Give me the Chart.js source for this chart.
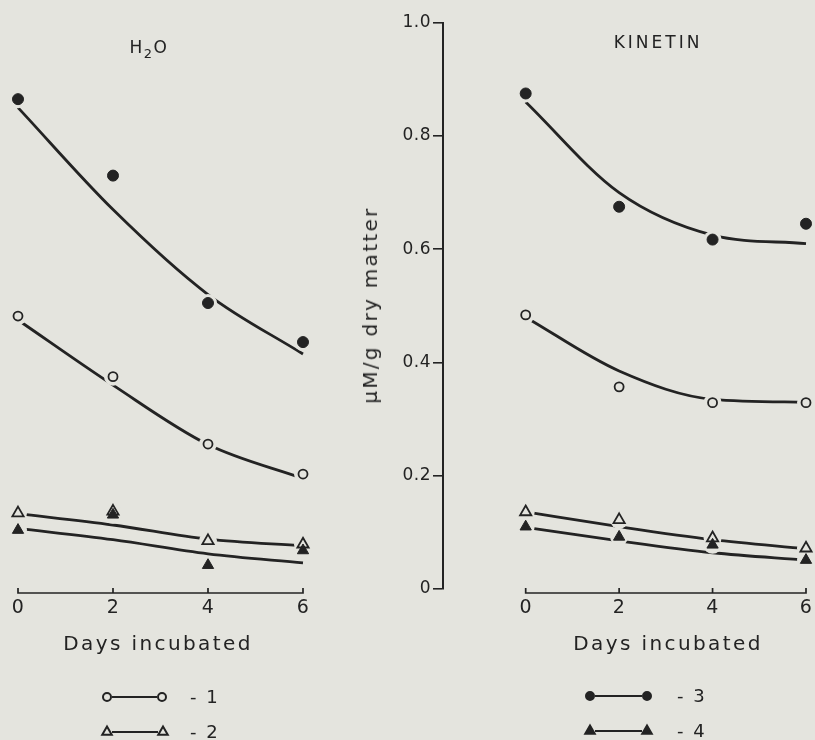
<!DOCTYPE html>
<html><head><meta charset="utf-8">
<script src="https://cdn.jsdelivr.net/npm/chart.js@4/dist/chart.umd.min.js"></script>
<style>
html,body{margin:0;padding:0;background:#e4e4de;}
#wrap{position:relative;width:815px;height:740px;overflow:hidden;font-family:"DejaVu Sans",sans-serif;color:#232323;background:#e4e4de;}
.cv{position:absolute;left:0;top:0;width:815px;height:740px;}
.t{position:absolute;white-space:nowrap;line-height:1;transform:translate(-50%,-50%);}
.lg{position:absolute;white-space:nowrap;line-height:1;transform:translateY(-50%);font-size:18px;letter-spacing:2px;}
</style></head><body>
<div id="wrap">
  <div class="cv"><canvas id="rightChart"></canvas></div>
  <div class="cv"><canvas id="leftChart"></canvas></div>
  <div class="t" style="left:149px;top:47px;font-size:17px;letter-spacing:1.5px;">H<span style="font-size:13px;position:relative;top:5px;">2</span>O</div>
  <div class="t" style="left:658px;top:42px;font-size:17px;letter-spacing:3px;">KINETIN</div>
  <div class="t" style="left:158px;top:643px;font-size:20px;letter-spacing:2.4px;">Days incubated</div>
  <div class="t" style="left:668px;top:643px;font-size:20px;letter-spacing:2.4px;">Days incubated</div>
  <div class="t" style="left:370px;top:305px;font-size:20px;letter-spacing:2.3px;transform:translate(-50%,-50%) rotate(-90deg);">μM/g dry matter</div>
  <div class="lg" style="left:190px;top:697px;">- 1</div>
  <div class="lg" style="left:190px;top:732px;">- 2</div>
  <div class="lg" style="left:677px;top:696px;">- 3</div>
  <div class="lg" style="left:677px;top:731px;">- 4</div>
</div>
<script>
// ---- data ----
const days = [0, 2, 4, 6];
const dayTicks = [0, 2, 4, 6];
const yTickValues = [0, 0.2, 0.4, 0.6, 0.8, 1.0];
const yTickLabels = ['0', '0.2', '0.4', '0.6', '0.8', '1.0'];

// H2O: measured points
const h2o1 = [0.482, 0.375, 0.256, 0.203];
const h2o2 = [0.134, 0.137, 0.085, 0.079];
const h2o3 = [0.865, 0.730, 0.505, 0.436];
const h2o4 = [0.104, 0.131, 0.042, 0.068];
// H2O: fitted curves
const h2oFit1 = [0.475, 0.360, 0.255, 0.195];
const h2oFit2 = [0.133, 0.113, 0.088, 0.076];
const h2oFit3 = [0.850, 0.670, 0.520, 0.415];
const h2oFit4 = [0.107, 0.087, 0.062, 0.046];

// KINETIN: measured points
const kin1 = [0.484, 0.357, 0.329, 0.329];
const kin2 = [0.136, 0.122, 0.090, 0.072];
const kin3 = [0.875, 0.675, 0.617, 0.645];
const kin4 = [0.110, 0.092, 0.078, 0.051];
// KINETIN: fitted curves
const kinFit1 = [0.480, 0.385, 0.335, 0.330];
const kinFit2 = [0.136, 0.110, 0.087, 0.071];
const kinFit3 = [0.860, 0.700, 0.625, 0.610];
const kinFit4 = [0.109, 0.085, 0.064, 0.051];

// ---- styling ----
const INK = '#232323';
const PAPER = '#e4e4de';
const FAMILY = '"DejaVu Sans", sans-serif';

const pts = arr => days.map((d, i) => ({x: d, y: arr[i]}));

function fitLine(arr) {
  return {data: pts(arr), borderColor: INK, borderWidth: 2.8, pointRadius: 0,
    cubicInterpolationMode: 'monotone', fill: false, clip: false, order: 30};
}
function halo(arr) {
  return {data: pts(arr), showLine: false, pointRadius: 9, pointBorderWidth: 0,
    pointBackgroundColor: PAPER, pointBorderColor: PAPER, clip: false, order: 20, pointStyle: 'circle'};
}
function marker(arr, style, filled) {
  const tri = style === 'triangle';
  return {data: pts(arr), showLine: false, pointStyle: style,
    pointRadius: tri ? 6.5 : (filled ? 5.5 : 4.5),
    pointBorderWidth: filled ? 1 : 1.8,
    pointBackgroundColor: filled ? INK : PAPER, pointBorderColor: INK,
    clip: false, order: filled ? 10 : 11};
}

const axisLinePlugin = {
  id: 'axisLine',
  beforeDraw(chart) { chart.ctx.letterSpacing = '0.5px'; },
  afterDraw(chart) {
    const x = chart.scales.x, ctx = chart.ctx;
    const y0 = chart.chartArea.bottom + 4;
    const a = x.getPixelForValue(dayTicks[0]);
    const b = x.getPixelForValue(dayTicks[dayTicks.length - 1]);
    ctx.save();
    ctx.strokeStyle = INK; ctx.lineWidth = 1.7;
    ctx.beginPath();
    ctx.moveTo(a, y0); ctx.lineTo(b, y0);
    dayTicks.forEach(v => { const p = x.getPixelForValue(v); ctx.moveTo(p, y0 + 0.8); ctx.lineTo(p, y0 - 5); });
    ctx.stroke();
    // legend symbols
    const items = chart.options.plugins.axisLine.legend || [];
    items.forEach(it => {
      ctx.beginPath(); ctx.lineWidth = 2; ctx.moveTo(it.x1 + 5, it.y); ctx.lineTo(it.x2 - 5, it.y); ctx.stroke();
      [it.x1, it.x2].forEach(px => {
        ctx.fillStyle = it.filled ? INK : PAPER; ctx.strokeStyle = INK;
        Chart.helpers.drawPoint(ctx, {pointStyle: it.style, radius: it.style === 'triangle' ? 5.5 : 4,
          borderWidth: it.filled ? 1 : 1.6, rotation: 0}, px, it.y);
      });
    });
    ctx.restore();
  }
};

function xScale(min) {
  return {
    type: 'linear', min: min, max: 6, position: 'bottom',
    grid: {display: false, drawTicks: false}, border: {display: false},
    ticks: {font: {size: 19, family: FAMILY}, color: INK, padding: 8, autoSkip: false, maxRotation: 0,
      callback: v => String(v)},
    afterBuildTicks: s => { s.ticks = dayTicks.map(v => ({value: v})); },
    afterFit: s => { s.height = 151; s.paddingLeft = 0; s.paddingRight = 0; }
  };
}

const common = {
  responsive: true, maintainAspectRatio: false, animation: false,
  events: [],
};

// Left panel: H2O
new Chart(document.getElementById('leftChart'), {
  type: 'line',
  data: {datasets: [
    fitLine(h2oFit1), fitLine(h2oFit2), fitLine(h2oFit3), fitLine(h2oFit4),
    halo(h2o1), halo(h2o2), halo(h2o3), halo(h2o4),
    marker(h2o1, 'circle', false), marker(h2o2, 'triangle', false),
    marker(h2o3, 'circle', true), marker(h2o4, 'triangle', true)
  ]},
  options: Object.assign({}, common, {
    layout: {padding: {top: 22.7, left: 18, right: 512, bottom: 0}},
    plugins: {legend: {display: false}, tooltip: {enabled: false},
      axisLine: {legend: [
        {x1: 107, x2: 162, y: 697, style: 'circle', filled: false},
        {x1: 107, x2: 163, y: 732, style: 'triangle', filled: false}
      ]}},
    scales: {
      x: xScale(0),
      y: {min: 0, max: 1, display: false}
    }
  }),
  plugins: [axisLinePlugin]
});

// Right panel: KINETIN (carries the shared y axis)
new Chart(document.getElementById('rightChart'), {
  type: 'line',
  data: {datasets: [
    fitLine(kinFit1), fitLine(kinFit2), fitLine(kinFit3), fitLine(kinFit4),
    halo(kin1), halo(kin2), halo(kin3), halo(kin4),
    marker(kin1, 'circle', false), marker(kin2, 'triangle', false),
    marker(kin3, 'circle', true), marker(kin4, 'triangle', true)
  ]},
  options: Object.assign({}, common, {
    layout: {padding: {top: 22.7, left: 0, right: 3, bottom: 0}},
    plugins: {legend: {display: false}, tooltip: {enabled: false},
      axisLine: {legend: [
        {x1: 590, x2: 647, y: 696, style: 'circle', filled: true},
        {x1: 590, x2: 647, y: 731, style: 'triangle', filled: true}
      ]}},
    scales: {
      x: xScale(-1.77),
      y: {
        min: 0, max: 1,
        grid: {drawOnChartArea: false, drawTicks: true, tickLength: 10, color: INK, lineWidth: 1.6},
        border: {display: true, color: INK, width: 2},
        ticks: {font: {size: 17, family: FAMILY}, color: INK, padding: 2,
          callback: v => yTickLabels[yTickValues.findIndex(t => Math.abs(t - v) < 1e-9)]},
        afterBuildTicks: s => { s.ticks = yTickValues.map(v => ({value: v})); },
        afterFit: s => { s.width = 443; s.paddingTop = 0; s.paddingBottom = 0; }
      }
    }
  }),
  plugins: [axisLinePlugin]
});
</script>
</body></html>
